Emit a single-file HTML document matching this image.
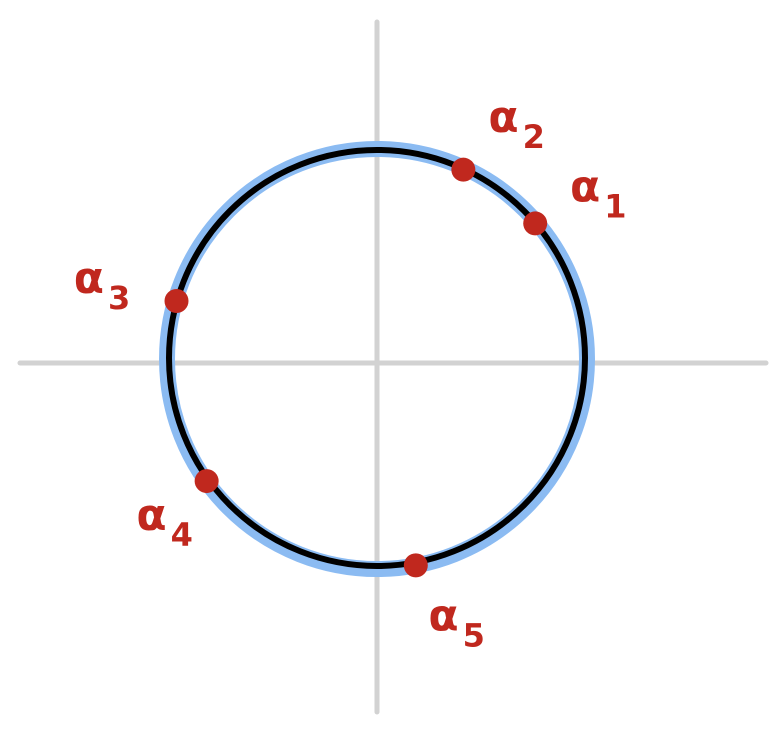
<!DOCTYPE html>
<html><head><meta charset="utf-8"><style>
html,body{margin:0;padding:0;background:#fff;}
svg{display:block;}
text{font-family:"DejaVu Sans","Liberation Sans",sans-serif;fill:#c0281e;font-weight:bold;}
</style></head>
<body>
<svg id="chart" width="783" height="738" viewBox="0 0 783 738" xmlns="http://www.w3.org/2000/svg">
  <line x1="20" y1="363" x2="766" y2="363" stroke="#d2d2d2" stroke-width="5" stroke-linecap="round"/>
  <line x1="377" y1="22" x2="377" y2="712" stroke="#d2d2d2" stroke-width="5" stroke-linecap="round"/>
  <circle cx="377" cy="359" r="210" fill="none" stroke="#8bbbf2" stroke-width="16"/>
  <circle cx="377" cy="358" r="208" fill="none" stroke="#000" stroke-width="6"/>
  <g id="points"></g>
</svg>
<script>
const labels = ["1", "2", "3", "4", "5"];
const anglesDeg = [40.8, 65.6, 163.6, 215.4, 280.7];

const cx = 377, cy = 360, r = 209;
// label placement (styling): radial distance and extra offsets
const labelRadius = [255, 255, 265, 262, 255];
const shiftX = [24, 30, -25, -3, 28];
const shiftY = [0, -4, 0, 10, 12];
const NS = "http://www.w3.org/2000/svg";
const g = document.getElementById("points");
function px(a, rad) { return cx + rad * Math.cos(a * Math.PI / 180); }
function py(a, rad) { return cy - rad * Math.sin(a * Math.PI / 180); }

for (let i = 0; i < anglesDeg.length; i++) {
  const a = anglesDeg[i];
  const c = document.createElementNS(NS, "circle");
  c.setAttribute("cx", px(a, r));
  c.setAttribute("cy", py(a, r));
  c.setAttribute("r", 12);
  c.setAttribute("fill", "#c0281e");
  
  
  g.appendChild(c);

  const lx = px(a, labelRadius[i]) + shiftX[i], ly = py(a, labelRadius[i]) + shiftY[i];
  const t = document.createElementNS(NS, "text");
  t.setAttribute("x", lx - 24);
  t.setAttribute("y", ly + 8);
  t.setAttribute("font-size", "44");
  t.textContent = "α";
  
  
  const s = document.createElementNS(NS, "tspan");
  s.setAttribute("dx", "4");
  s.setAttribute("dy", "16");
  s.setAttribute("font-size", "32");
  s.textContent = labels[i];
  t.appendChild(s);
  g.appendChild(t);
}
</script>
</body></html>
